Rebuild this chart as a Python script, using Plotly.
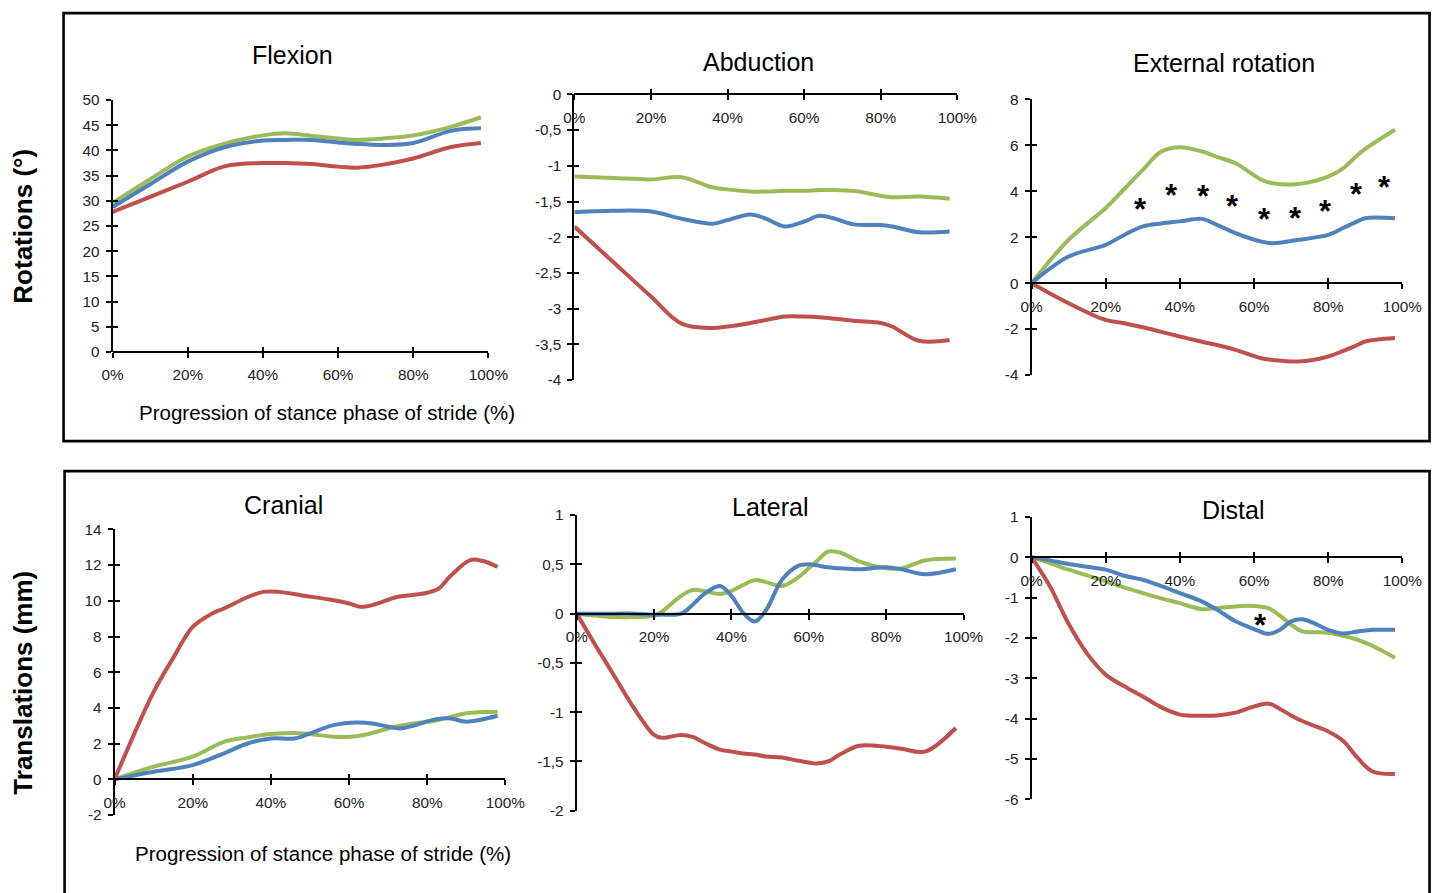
import plotly.graph_objects as go

W, H = 1451, 893

# ---------------- data ----------------
flex_x = [0, 10, 20, 30, 40, 46, 53, 60, 65, 72, 80, 90, 98]
flex_green = [29.6, 34.3, 38.8, 41.4, 43.0, 43.4, 42.9, 42.4, 42.1, 42.4, 43.0, 44.7, 46.6]
flex_blue = [28.8, 33.3, 37.8, 40.7, 42.0, 42.1, 42.1, 41.6, 41.3, 41.1, 41.5, 43.9, 44.4]
flex_red = [27.8, 30.8, 33.8, 36.9, 37.5, 37.5, 37.3, 36.8, 36.6, 37.2, 38.4, 40.7, 41.5]

abd_x = [0, 10, 20, 28, 36, 40, 46, 50, 55, 60, 64, 68, 73, 80, 83, 90, 98]
abd_green = [-1.15, -1.17, -1.19, -1.16, -1.30, -1.33, -1.36, -1.36, -1.35, -1.35, -1.34, -1.34, -1.35, -1.42, -1.44, -1.43, -1.46]
abd_blue = [-1.65, -1.63, -1.64, -1.74, -1.81, -1.76, -1.68, -1.74, -1.85, -1.78, -1.70, -1.74, -1.82, -1.83, -1.85, -1.93, -1.92]
abd_red = [-1.85, -2.34, -2.83, -3.21, -3.27, -3.25, -3.20, -3.16, -3.11, -3.11, -3.12, -3.14, -3.17, -3.20, -3.25, -3.45, -3.44]

ext_x = [0, 10, 20, 25, 30, 35, 40, 46, 50, 55, 62, 65, 72, 80, 84, 88, 90, 98]
ext_green = [0, 1.89, 3.27, 4.10, 4.93, 5.73, 5.92, 5.73, 5.50, 5.22, 4.50, 4.35, 4.32, 4.64, 5.00, 5.59, 5.85, 6.68]
ext_blue = [0, 1.16, 1.67, 2.10, 2.47, 2.60, 2.69, 2.80, 2.54, 2.18, 1.81, 1.74, 1.89, 2.10, 2.40, 2.70, 2.83, 2.83]
ext_red = [0, -0.87, -1.60, -1.74, -1.92, -2.12, -2.32, -2.55, -2.69, -2.90, -3.27, -3.34, -3.41, -3.19, -2.95, -2.68, -2.54, -2.39]
ext_star_x = [29.5, 37.8, 46.4, 54.3, 62.8, 71.1, 79.2, 87.6, 95.2]
ext_star_y = [3.34, 3.95, 3.89, 3.45, 2.90, 2.93, 3.24, 3.99, 4.31]

cran_red_x = [0, 10, 15, 20, 25, 28, 34, 38, 42, 48, 55, 60, 63, 66, 72, 75, 80, 83, 86, 91, 94, 98]
cran_red = [0, 4.9, 6.8, 8.54, 9.29, 9.57, 10.2, 10.5, 10.5, 10.3, 10.07, 9.85, 9.66, 9.76, 10.2, 10.3, 10.45, 10.7, 11.4, 12.28, 12.24, 11.9]
cran_x = [0, 10, 20, 28, 34, 40, 46, 50, 56, 62, 66, 70, 73, 77, 82, 86, 90, 98]
cran_green = [0, 0.71, 1.27, 2.10, 2.35, 2.54, 2.60, 2.54, 2.39, 2.42, 2.60, 2.85, 3.00, 3.15, 3.28, 3.50, 3.70, 3.79]
cran_blue = [0, 0.43, 0.80, 1.46, 2.01, 2.29, 2.29, 2.57, 3.04, 3.19, 3.13, 2.95, 2.85, 3.04, 3.36, 3.41, 3.23, 3.56]

lat_x = [0, 5, 10, 15, 20, 22, 27, 30, 33, 37, 40, 43, 46, 49, 53, 57, 60, 62, 65, 68, 73, 80, 84, 90, 98]
lat_green = [0, -0.02, -0.034, -0.035, -0.02, 0.02, 0.18, 0.24, 0.23, 0.20, 0.23, 0.29, 0.34, 0.32, 0.28, 0.36, 0.46, 0.53, 0.63, 0.62, 0.53, 0.46, 0.46, 0.54, 0.56]
lat_blue = [0, 0, 0, 0, -0.01, -0.01, 0.0, 0.09, 0.20, 0.28, 0.18, 0.01, -0.08, 0.04, 0.34, 0.48, 0.50, 0.49, 0.47, 0.46, 0.45, 0.47, 0.45, 0.40, 0.45]
lat_red = [0, -0.33, -0.65, -0.97, -1.23, -1.26, -1.23, -1.25, -1.31, -1.38, -1.40, -1.42, -1.43, -1.45, -1.46, -1.49, -1.51, -1.52, -1.50, -1.43, -1.34, -1.35, -1.37, -1.40, -1.16]

dist_x = [0, 5, 10, 15, 20, 25, 30, 35, 40, 46, 50, 55, 60, 64, 67, 70, 73, 76, 80, 84, 88, 92, 98]
dist_red = [0, -0.73, -1.65, -2.39, -2.91, -3.20, -3.45, -3.72, -3.90, -3.93, -3.92, -3.85, -3.70, -3.63, -3.76, -3.92, -4.06, -4.17, -4.32, -4.55, -4.98, -5.31, -5.37]
dist_green = [0, -0.15, -0.31, -0.45, -0.60, -0.75, -0.89, -1.02, -1.14, -1.29, -1.26, -1.22, -1.21, -1.27, -1.45, -1.67, -1.84, -1.86, -1.87, -1.95, -2.05, -2.20, -2.49]
dist_blue = [0, -0.08, -0.17, -0.24, -0.31, -0.46, -0.56, -0.72, -0.89, -1.10, -1.30, -1.59, -1.78, -1.90, -1.80, -1.59, -1.54, -1.63, -1.80, -1.89, -1.84, -1.80, -1.80]
dist_star_x = [61.8]
dist_star_y = [-1.63]

x_ticks = [0, 20, 40, 60, 80, 100]
x_ticktext = ["0%", "20%", "40%", "60%", "80%", "100%"]

titles = ["Flexion", "Abduction", "External rotation", "Cranial", "Lateral", "Distal"]
x_title = "Progression of stance phase of stride (%)"
y_titles = ["Rotations (°)", "Translations (mm)"]

GREEN, BLUE, RED = "#9BBB59", "#4F81BD", "#C0504D"

# ---------------- layout geometry (target picture pixels) ----------------
panels = [
    dict(xd=(113, 489), yd=(100, 352), yr=(0, 50), dt=5, title=(293, 55)),
    dict(xd=(575, 958), yd=(94.3, 380), yr=(-4, 0), dt=0.5, title=(759, 62)),
    dict(xd=(1032.3, 1403.3), yd=(99.3, 375), yr=(-4, 8), dt=2, title=(1225, 63)),
    dict(xd=(115, 506), yd=(529.3, 815), yr=(-2, 14), dt=2, title=(284, 505)),
    dict(xd=(577.3, 964.3), yd=(515, 810.7), yr=(-2, 1), dt=0.5, title=(771, 507)),
    dict(xd=(1032.3, 1403.3), yd=(516.7, 799.3), yr=(-6, 1), dt=1, title=(1234, 510)),
]

series = [
    [(flex_x, flex_green, GREEN), (flex_x, flex_blue, BLUE), (flex_x, flex_red, RED)],
    [(abd_x, abd_green, GREEN), (abd_x, abd_blue, BLUE), (abd_x, abd_red, RED)],
    [(ext_x, ext_green, GREEN), (ext_x, ext_blue, BLUE), (ext_x, ext_red, RED)],
    [(cran_x, cran_green, GREEN), (cran_x, cran_blue, BLUE), (cran_red_x, cran_red, RED)],
    [(lat_x, lat_green, GREEN), (lat_x, lat_blue, BLUE), (lat_x, lat_red, RED)],
    [(dist_x, dist_green, GREEN), (dist_x, dist_blue, BLUE), (dist_x, dist_red, RED)],
]

# the captured picture is offset/scaled slightly relative to the page; compensate
OX, OY, SX, SY = 11.4, 8.9, 0.979, 0.981

def px(x):
    return min(max((x - OX) / SX, 0), W) / W

def py(y):
    return 1 - ((y - OY) / SY) / H

def fmt(v):
    return ("%g" % v).replace(".", ",")

FONT = "Liberation Sans, Arial, sans-serif"
TICKFONT = dict(family=FONT, size=15.3, color="#222")

fig = go.Figure()
layout = dict(
    width=W, height=H, autosize=False,
    margin=dict(l=0, r=0, t=0, b=0),
    paper_bgcolor="white", plot_bgcolor="rgba(0,0,0,0)",
    showlegend=False,
    annotations=[], shapes=[],
)

n = len(panels)
for i, p in enumerate(panels):
    k = i + 1
    ko = k + n  # overlay axis index for the inside half of each tick
    xs = "" if k == 1 else str(k)
    xdom = [px(p["xd"][0]), px(p["xd"][1])]
    ydom = [py(p["yd"][1]), py(p["yd"][0])]
    y0, y1 = p["yr"]
    pos = ydom[0] + (0 - y0) / (y1 - y0) * (ydom[1] - ydom[0])
    nt = int(round((y1 - y0) / p["dt"]))
    yvals = [y0 + j * p["dt"] for j in range(nt + 1)]
    ytext = [fmt(v) for v in yvals]

    common_x = dict(domain=xdom, range=[0, 100], showgrid=False, zeroline=False,
                    tickvals=x_ticks, fixedrange=True)
    common_y = dict(domain=ydom, range=[y0, y1], showgrid=False, zeroline=False,
                    tickvals=yvals, fixedrange=True)

    layout["xaxis" + xs] = dict(**common_x, anchor="free", position=pos,
                                ticktext=x_ticktext, showline=True, linecolor="black",
                                linewidth=2, ticks="outside", ticklen=5, tickwidth=2,
                                tickcolor="black", tickfont=TICKFONT, ticklabelstandoff=4)
    layout["yaxis" + xs] = dict(**common_y, anchor="x" + xs, ticktext=ytext,
                                showline=True, linecolor="black", linewidth=2,
                                ticks="outside", ticklen=5, tickwidth=2, tickcolor="black",
                                tickfont=TICKFONT, ticklabelstandoff=3)
    layout["xaxis%d" % ko] = dict(**common_x, anchor="free", position=pos,
                                  overlaying="x" + xs, showline=False, ticks="inside",
                                  ticklen=5, tickwidth=2, tickcolor="black",
                                  showticklabels=False)
    layout["yaxis%d" % ko] = dict(**common_y, anchor="x%d" % ko, overlaying="y" + xs,
                                  showline=False, ticks="inside", ticklen=5, tickwidth=2,
                                  tickcolor="black", showticklabels=False)
    fig.add_trace(go.Scatter(x=[None], y=[None], xaxis="x%d" % ko, yaxis="y%d" % ko,
                             mode="lines", hoverinfo="skip"))

    for sx, sy, col in series[i]:
        fig.add_trace(go.Scatter(x=sx, y=sy, xaxis="x" + xs, yaxis="y" + xs,
                                 mode="lines", line=dict(color=col, width=4,
                                                         shape="spline", smoothing=1.0),
                                 cliponaxis=False))

    layout["annotations"].append(dict(
        text=titles[i], x=px(p["title"][0]), y=py(p["title"][1]), xref="paper", yref="paper",
        xanchor="center", yanchor="middle", showarrow=False,
        font=dict(family=FONT, size=25, color="black")))

# significance asterisks
for xr, yr, sx, sy in [("x3", "y3", ext_star_x, ext_star_y), ("x6", "y6", dist_star_x, dist_star_y)]:
    for a, b in zip(sx, sy):
        layout["annotations"].append(dict(
            text="<b>*</b>", x=a, y=b, xref=xr, yref=yr, showarrow=False,
            xanchor="center", yanchor="middle", yshift=-3,
            font=dict(family=FONT, size=31, color="black")))

# axis titles
for (cx, cy) in [(328, 412), (324, 853)]:
    layout["annotations"].append(dict(
        text=x_title, x=px(cx), y=py(cy), xref="paper", yref="paper",
        xanchor="center", yanchor="middle", showarrow=False,
        font=dict(family=FONT, size=20.5, color="black")))
for t, cy in zip(y_titles, [226, 683]):
    layout["annotations"].append(dict(
        text="<b>%s</b>" % t, x=px(23), y=py(cy), xref="paper", yref="paper",
        xanchor="center", yanchor="middle", showarrow=False, textangle=-90,
        font=dict(family=FONT, size=26, color="black")))

# panel frames
for (x0, y0_, x1, y1_) in [(64, 13, 1448, 441), (65, 471, 1448, 960)]:
    layout["shapes"].append(dict(type="rect", xref="paper", yref="paper",
                                 x0=px(x0), x1=min(px(x1), (W - 1.5) / W),
                                 y0=py(y1_), y1=py(y0_),
                                 line=dict(color="black", width=2.6), layer="below"))

fig.update_layout(**layout)
fig.write_html(
    "out.html",
    config={"displayModeBar": False, "responsive": False},
    post_script=("var d=document.getElementById('{plot_id}');"
                 "d.style.position='fixed';d.style.left='0px';d.style.top='0px';"
                 "document.body.style.margin='0';document.body.style.overflow='hidden';"
                 "document.documentElement.style.overflow='hidden';"),
)
